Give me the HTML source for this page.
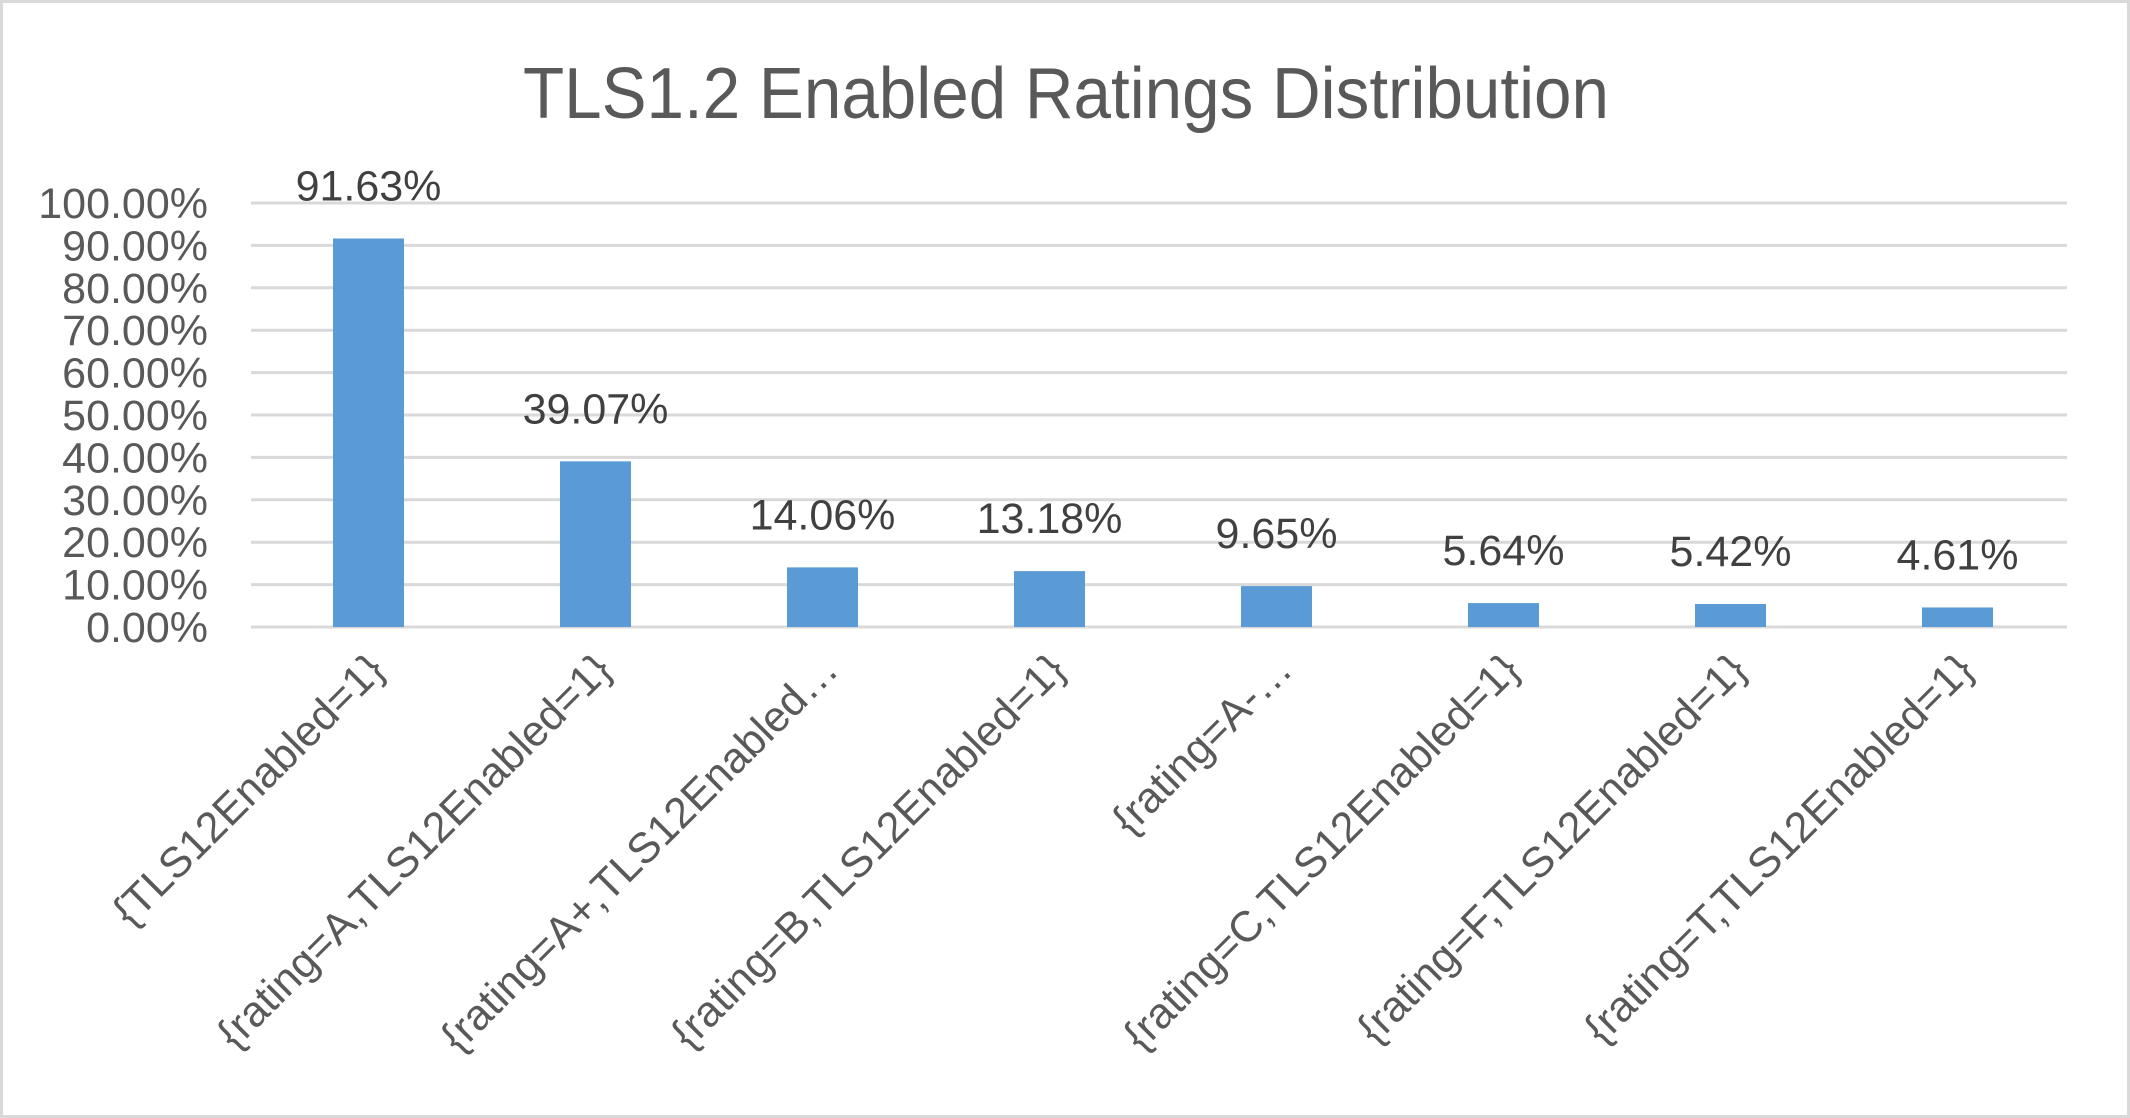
<!DOCTYPE html>
<html><head><meta charset="utf-8"><style>
html,body{margin:0;padding:0;background:#fff}
svg{display:block;font-family:"Liberation Sans",sans-serif}
</style></head><body>
<svg id="chart" width="2130" height="1118" viewBox="0 0 2130 1118">
<rect x="1.5" y="1.5" width="2127" height="1115" fill="#fff" stroke="#d9d9d9" stroke-width="3"/>
<text x="1066" y="118" text-anchor="middle" font-size="72" fill="#595959" textLength="1086" lengthAdjust="spacingAndGlyphs">TLS1.2 Enabled Ratings Distribution</text>
<g id="grid"></g><g id="bars"></g><g id="labels"></g>
</svg>
<script>
const categories=["{TLS12Enabled=1}","{rating=A,TLS12Enabled=1}","{rating=A+,TLS12Enabled…","{rating=B,TLS12Enabled=1}","{rating=A-…","{rating=C,TLS12Enabled=1}","{rating=F,TLS12Enabled=1}","{rating=T,TLS12Enabled=1}"];
const values=[91.63,39.07,14.06,13.18,9.65,5.64,5.42,4.61];
const valueLabels=["91.63%","39.07%","14.06%","13.18%","9.65%","5.64%","5.42%","4.61%"];
const ticks=[0,10,20,30,40,50,60,70,80,90,100];
const tickLabels=["0.00%","10.00%","20.00%","30.00%","40.00%","50.00%","60.00%","70.00%","80.00%","90.00%","100.00%"];
const NS="http://www.w3.org/2000/svg";
const L=251,R=2067,Y0=627,Y1=203;
const y=v=>Y0-(v/100)*(Y0-Y1);
const band=(R-L)/categories.length;
const xc=i=>L+band*(i+0.5)+4;
function mk(t,a,p){const e=document.createElementNS(NS,t);for(const k in a)e.setAttribute(k,a[k]);p.appendChild(e);return e;}
const g=document.getElementById('grid'),b=document.getElementById('bars'),lb=document.getElementById('labels');
ticks.forEach((t,i)=>{
 const ln=mk('line',{x1:L,x2:R,y1:y(t),y2:y(t),stroke:'#d9d9d9','stroke-width':3},g);
 
 
 const tx=mk('text',{x:208,y:y(t)+15,'text-anchor':'end','font-size':43,fill:'#595959'},g);
 tx.textContent=tickLabels[i];
 
 
});
values.forEach((v,i)=>{
 const r=mk('rect',{x:xc(i)-35.5,y:y(v),width:71,height:Y0-y(v),fill:'#5b9bd5'},b);
 
 
 const t=mk('text',{x:xc(i),y:y(v)-38,'text-anchor':'middle','font-size':43,fill:'#404040'},lb);
 t.textContent=valueLabels[i];
 
 
 const c=mk('text',{x:xc(i)+18,y:672,'text-anchor':'end','font-size':43,fill:'#595959',transform:`rotate(-45 ${xc(i)+18} 672)`},lb);
 c.textContent=categories[i];
 
 
});
</script>
</body></html>
